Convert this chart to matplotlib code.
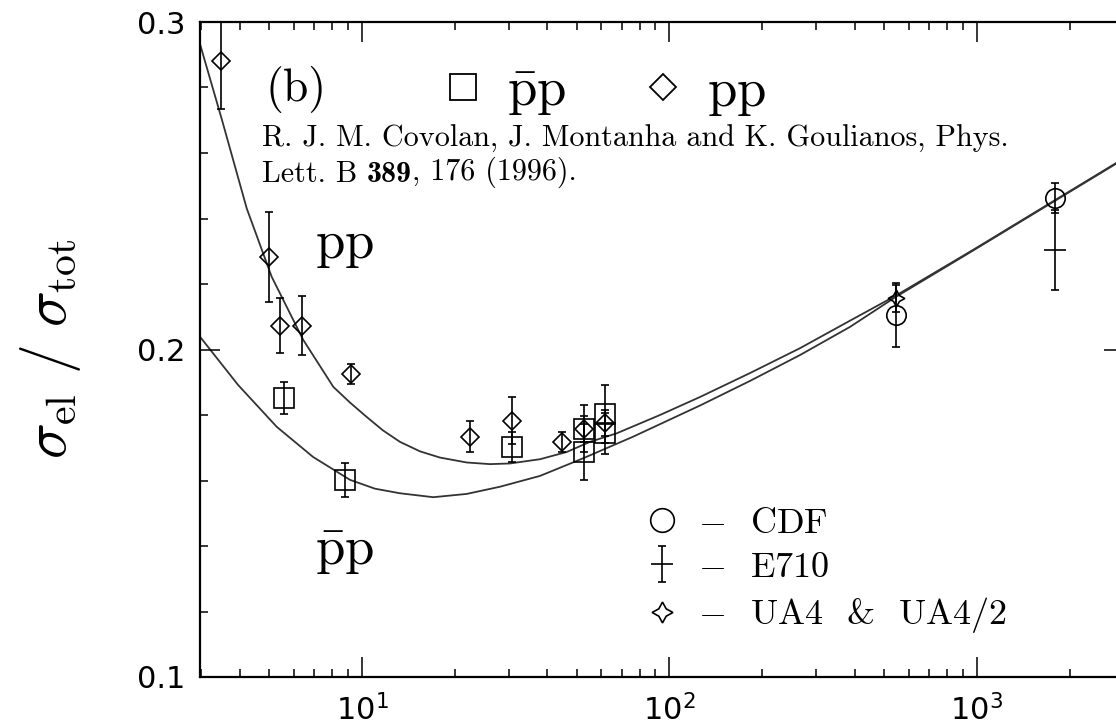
import matplotlib
matplotlib.use("Agg")
import matplotlib.pyplot as plt
from matplotlib.lines import Line2D
from matplotlib.ticker import FixedLocator, MultipleLocator, LogLocator, NullFormatter

plt.rcParams['mathtext.fontset'] = 'cm'

# ---- data: sqrt(s) [GeV] and sigma_el / sigma_tot ----
pp_sqrt_s = [3.48, 4.98, 5.41, 6.37, 9.21, 22.4, 30.8, 44.8, 52.7, 61.6]
pp_ratio = [0.288, 0.2283, 0.2073, 0.2073, 0.1925, 0.1734, 0.1782, 0.1718, 0.1757, 0.1776]
pp_err = [0.0145, 0.0138, 0.0083, 0.0089, 0.003, 0.0048, 0.0072, 0.003, 0.004, 0.004]

pbarp_sqrt_s = [5.59, 8.8, 30.8, 52.7, 52.7, 61.6, 61.6]
pbarp_ratio = [0.1853, 0.1602, 0.1703, 0.1758, 0.1686, 0.1802, 0.1744]
pbarp_err = [0.0049, 0.0051, 0.0046, 0.0072, 0.0085, 0.0089, 0.0063]

cdf_sqrt_s = [546, 1800]
cdf_ratio = [0.2105, 0.2462]
cdf_err = [0.0097, 0.0046]

e710_sqrt_s = [1800]
e710_ratio = [0.2304]
e710_err = [0.0122]

ua4_sqrt_s = [546]
ua4_ratio = [0.2156]
ua4_err = [0.004]

# model curves
pp_curve_s = [2.958, 3.505, 4.218, 5.086, 6.444, 8.067, 9.141, 10.36, 11.70, 13.29,
              15.44, 17.94, 21.90, 26.08, 30.29, 37.92, 46.32, 55.13, 67.33, 93.13,
              125.7, 182.7, 265.7, 386.4, 541.2, 970.5, 1793, 2831, 3007]
pp_curve_v = [0.2940, 0.2701, 0.2431, 0.2222, 0.2029, 0.1886, 0.1838, 0.1794, 0.1753,
              0.1718, 0.1689, 0.1670, 0.1655, 0.1650, 0.1652, 0.1665, 0.1687, 0.1718,
              0.1744, 0.1800, 0.1855, 0.1928, 0.2004, 0.2088, 0.2163, 0.2304, 0.2456,
              0.2569, 0.2583]
pbarp_curve_s = [2.973, 3.952, 5.28, 6.93, 9.14, 11.02, 13.29, 17.06, 21.90, 28.11,
                 37.92, 52.44, 76.25, 125.7, 182.7, 265.7, 386.4, 541.2, 970.5,
                 1793, 2831, 3007]
pbarp_curve_v = [0.2039, 0.1892, 0.1764, 0.1672, 0.1602, 0.1575, 0.1561, 0.1549,
                 0.1559, 0.1581, 0.1614, 0.1668, 0.1734, 0.1829, 0.1904, 0.1983,
                 0.2069, 0.2159, 0.2302, 0.2454, 0.2567, 0.2581]

x_ticks = [10, 100, 1000]
y_ticks = [0.1, 0.2, 0.3]
y_tick_labels = ['0.1', '0.2', '0.3']

CM = 'cmr10'
fig = plt.figure(figsize=(11.16, 7.27), dpi=100)
ax = fig.add_axes([199.5 / 1116, 50 / 727, 924.2 / 1116, 655 / 727])
ax.set_xscale('log')
ax.set_xlim(2.962, 3000)
ax.set_ylim(0.1, 0.3)

curve_kw = dict(color='#333333', lw=1.3, zorder=1)
ax.plot(pp_curve_s, pp_curve_v, **curve_kw)
ax.plot(pbarp_curve_s, pbarp_curve_v, **curve_kw)

eb_kw = dict(ls='none', ecolor='black', elinewidth=1.2, capsize=3, capthick=1.2,
             mfc='none', mec='black', mew=1.2, zorder=3)
ax.errorbar(pbarp_sqrt_s, pbarp_ratio, yerr=pbarp_err, marker='s', ms=14, **eb_kw)
ax.errorbar(pp_sqrt_s, pp_ratio, yerr=pp_err, marker='D', ms=9.5, **eb_kw)
ax.errorbar(cdf_sqrt_s, cdf_ratio, yerr=cdf_err, marker='o', ms=14, **eb_kw)
e710 = ax.errorbar(e710_sqrt_s, e710_ratio, yerr=e710_err, marker='_', ms=16, **eb_kw)
ax.errorbar(ua4_sqrt_s, ua4_ratio, yerr=ua4_err, marker=(4, 1, 0), ms=12, **eb_kw)

# axes styling
for sp in ax.spines.values():
    sp.set_linewidth(1.6)
ax.xaxis.set_major_locator(FixedLocator(x_ticks))
ax.xaxis.set_minor_locator(LogLocator(base=10, subs=range(2, 10)))
ax.xaxis.set_minor_formatter(NullFormatter())
ax.yaxis.set_major_locator(FixedLocator(y_ticks))
ax.set_yticklabels(y_tick_labels)
ax.yaxis.set_minor_locator(MultipleLocator(0.02))
ax.tick_params(which='both', direction='in', top=True, right=True, width=1.1)
ax.tick_params(which='major', length=14.5, labelsize=22)
ax.tick_params(which='minor', length=5.5)
ax.tick_params(axis='x', which='major', pad=12)
ax.tick_params(axis='y', which='major', pad=10)

ax.set_ylabel(r'$\sigma_{\rm el}\ /\ \sigma_{\rm tot}$', fontsize=43, labelpad=39)

# annotations
ax.text(0.0709, 0.8794, '(b)', family=CM, fontsize=33, transform=ax.transAxes,
        va='baseline', ha='left')
ax.text(0.0676, 0.8092, 'R. J. M. Covolan, J. Montanha and K. Goulianos, Phys.',
        family=CM, fontsize=21.7, transform=ax.transAxes, va='baseline', ha='left')
ref_a = ax.text(0.0676, 0.7557, 'Lett. B ', family=CM, fontsize=21.7,
                transform=ax.transAxes, va='baseline', ha='left')
ref_b = ax.annotate('389', xy=(1, 0), xycoords=ref_a, family='cmb10', fontsize=21.7,
                    va='bottom', ha='left')
ax.annotate(', 176 (1996).', xy=(1, 0), xycoords=ref_b, family=CM, fontsize=21.7,
            va='bottom', ha='left')
ax.text(0.125, 0.6397, r'$\rm pp$', fontsize=38, transform=ax.transAxes,
        va='baseline', ha='left')
ax.text(0.125, 0.171, r'$\bar{\rm p}{\rm p}$', fontsize=38, transform=ax.transAxes,
        va='baseline', ha='left')

# legend: beam type
h_sq = Line2D([], [], marker='s', ms=18.5, mfc='none', mec='black', mew=1.3, ls='none')
h_di = Line2D([], [], marker='D', ms=13.5, mfc='none', mec='black', mew=1.3, ls='none')
leg1 = ax.legend([h_sq, h_di], [r'$\bar{\rm p}{\rm p}$', r'$\rm pp$'], ncol=2,
                 loc='upper left', bbox_to_anchor=(0.2689, 0.935), frameon=False,
                 fontsize=38, handlelength=0.57, handletextpad=0.55, columnspacing=1.55,
                 borderpad=0, borderaxespad=0)
ax.add_artist(leg1)

# legend: experiments
h_cdf = Line2D([], [], marker='o', ms=17, mfc='none', mec='black', mew=1.2, ls='none')
h_ua4 = Line2D([], [], marker=(4, 1, 0), ms=15, mfc='none', mec='black', mew=1.2, ls='none')
leg2 = ax.legend([h_cdf, e710, h_ua4],
                 [r'$-$  CDF', r'$-$  E710', r'$-$  UA4  &  UA4/2'],
                 loc='upper left', bbox_to_anchor=(0.4849, 0.2588), frameon=False,
                 prop={'family': CM, 'size': 26}, handlelength=0.8, handletextpad=0.6,
                 labelspacing=0.32, borderpad=0, borderaxespad=0)

fig.savefig('out.png', dpi=100)
